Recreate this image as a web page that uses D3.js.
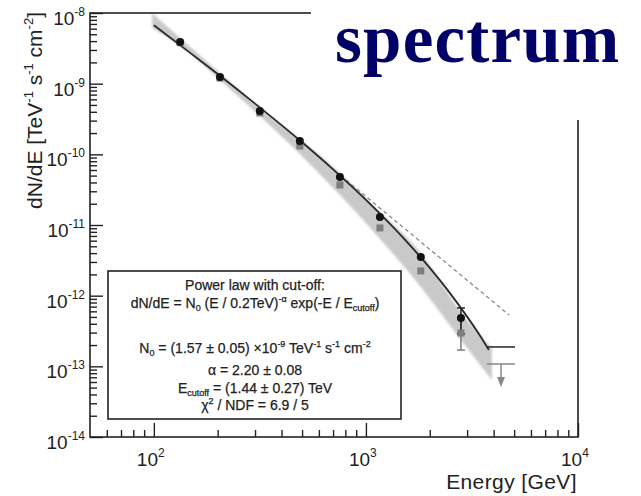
<!DOCTYPE html>
<html>
<head>
<meta charset="utf-8">
<script src="https://cdn.jsdelivr.net/npm/d3@7"></script>
<style>
  body { margin: 0; background: #fff; }
  svg { display: block; }
</style>
</head>
<body>
<div id="chart"></div>
<script>
// measured points (GeV, TeV^-1 s^-1 cm^-2)
const energy = [133, 205, 316, 488, 754, 1164, 1815, 2806];
const fluxBlack = [3.89e-9, 1.24e-9, 4.1e-10, 1.55e-10, 4.79e-11, 1.30e-11, 3.52e-12, 4.83e-13];
const fluxGray = [3.8e-9, 1.2e-9, 3.85e-10, 1.31e-10, 3.68e-11, 9.08e-12, 2.24e-12, 2.96e-13];

// error bars on the last point only
const errEnergy = [2806];
const errBlack = [[2.87e-13, 6.70e-13]];
const errGray = [[1.70e-13, 5.0e-13]];

// upper limits
const ulEnergyRange = [3725, 5047];
const ulArrowEnergy = 4335;
const ulBlack = 1.88e-13;
const ulGray = 1.08e-13;

// fitted power law with cut-off
const fitEnergy = [100, 150, 200, 300, 500, 700, 1000, 1500, 2000, 2500, 3000, 3500, 3800];
const fitFlux = [6.73e-9, 2.66e-9, 1.37e-9, 5.22e-10, 1.48e-10, 6.13e-11, 2.27e-11, 6.58e-12, 2.47e-12, 1.07e-12, 5.05e-13, 2.54e-13, 1.7e-13];

// pure power law (dashed)
const plEnergy = [805, 4730];
const plFlux = [4.34e-11, 5.33e-13];

// grey band
const bandEnergy = [98, 133, 205, 316, 488, 762, 1178, 1815, 2806, 3926];
const bandUpper = [1e-8, 4.43e-9, 1.42e-9, 4.53e-10, 1.65e-10, 5.27e-11, 1.48e-11, 4.02e-12, 5.87e-13, 1.82e-13];
const bandLower = [6.14e-9, 3.41e-9, 1.13e-9, 3.49e-10, 1.01e-10, 2.57e-11, 6.14e-12, 1.33e-12, 2.36e-13, 6.41e-14];

// ticks
const xMajor = [100, 1000, 10000];
const xExponents = [2, 3, 4];
const xMinor = [60, 70, 80, 90, 200, 300, 400, 500, 600, 700, 800, 900, 2000, 3000, 4000, 5000, 6000, 7000, 8000, 9000];
const yMajor = [1e-8, 1e-9, 1e-10, 1e-11, 1e-12, 1e-13, 1e-14];
const yExponents = [-8, -9, -10, -11, -12, -13, -14];
const yMinor = [];
[-14, -13, -12, -11, -10, -9].forEach(p => {
    [2, 3, 4, 5, 6, 7, 8, 9].forEach(m => yMinor.push(m * Math.pow(10, p)));
});

const width = 641, height = 496;
const plotLeft = 90, plotRight = 578, plotTop = 13, plotBottom = 437;
const font = "'Liberation Sans', Arial, sans-serif";

const svg = d3.select('#chart').append('svg')
    .attr('width', width)
    .attr('height', height);

const defs = svg.append('defs');
defs.append('filter').attr('id', 'soft')
    .append('feGaussianBlur').attr('stdDeviation', 1.2);

const x = d3.scaleLog().domain([50, 1e4]).range([plotLeft, plotRight]);
const y = d3.scaleLog().domain([1e-14, 1e-8]).range([plotBottom, plotTop]);

// band
const band = d3.area()
    .x((d, i) => x(bandEnergy[i]))
    .y0((d, i) => y(bandLower[i]))
    .y1((d, i) => y(bandUpper[i]))
    .curve(d3.curveMonotoneX);

svg.append('path')
    .datum(bandEnergy)
    .attr('d', band)
    .attr('fill', '#c9c9c9')
    .attr('filter', 'url(#soft)');

// dashed power law
svg.append('path')
    .datum(plEnergy)
    .attr('d', d3.line().x(d => x(d)).y((d, i) => y(plFlux[i])))
    .attr('fill', 'none')
    .attr('stroke', '#8a8a8a')
    .attr('stroke-width', 1.3)
    .attr('stroke-dasharray', '4,3');

// fit curve
svg.append('path')
    .datum(fitEnergy)
    .attr('d', d3.line().x(d => x(d)).y((d, i) => y(fitFlux[i])).curve(d3.curveMonotoneX))
    .attr('fill', 'none')
    .attr('stroke', '#2a2a2a')
    .attr('stroke-width', 1.8);

// error bars
function errorBar(e, range, color, capW) {
    const g = svg.append('g').attr('stroke', color).attr('stroke-width', 1.5);
    g.append('line').attr('x1', x(e)).attr('x2', x(e)).attr('y1', y(range[0])).attr('y2', y(range[1]));
    range.forEach(v => {
        g.append('line').attr('x1', x(e) - capW).attr('x2', x(e) + capW).attr('y1', y(v)).attr('y2', y(v));
    });
}
errEnergy.forEach((e, i) => {
    errorBar(e, errGray[i], '#7a7a7a', 4);
    errorBar(e, errBlack[i], '#222', 4);
});

// grey squares
svg.append('g').selectAll('rect')
    .data(energy)
    .join('rect')
    .attr('x', d => x(d) - 3.5)
    .attr('y', (d, i) => y(fluxGray[i]) - 3.5)
    .attr('width', 7)
    .attr('height', 7)
    .attr('fill', '#7d7d7d');

// black circles
svg.append('g').selectAll('circle')
    .data(energy)
    .join('circle')
    .attr('cx', d => x(d))
    .attr('cy', (d, i) => y(fluxBlack[i]))
    .attr('r', 4)
    .attr('fill', '#111');

// upper limits
svg.append('line')
    .attr('x1', x(ulEnergyRange[0])).attr('x2', x(ulEnergyRange[1]))
    .attr('y1', y(ulBlack)).attr('y2', y(ulBlack))
    .attr('stroke', '#222').attr('stroke-width', 1.5);
svg.append('line')
    .attr('x1', x(ulEnergyRange[0])).attr('x2', x(ulEnergyRange[1]))
    .attr('y1', y(ulGray)).attr('y2', y(ulGray))
    .attr('stroke', '#888').attr('stroke-width', 1.5);
svg.append('line')
    .attr('x1', x(ulArrowEnergy)).attr('x2', x(ulArrowEnergy))
    .attr('y1', y(ulGray)).attr('y2', y(ulGray) + 14)
    .attr('stroke', '#888').attr('stroke-width', 1.5);
svg.append('path')
    .attr('d', `M${x(ulArrowEnergy) - 4},${y(ulGray) + 13} L${x(ulArrowEnergy) + 4},${y(ulGray) + 13} L${x(ulArrowEnergy)},${y(ulGray) + 23} Z`)
    .attr('fill', '#888');

// axes
const yAxisG = svg.append('g').attr('transform', `translate(${plotLeft},0)`);
yAxisG.call(d3.axisRight(y).tickValues(yMajor).tickSize(13).tickFormat(''));
yAxisG.append('g').call(d3.axisRight(y).tickValues(yMinor).tickSize(7).tickFormat(''));
const xAxisG = svg.append('g').attr('transform', `translate(0,${plotBottom})`);
xAxisG.call(d3.axisTop(x).tickValues(xMajor).tickSize(14).tickFormat(''));
xAxisG.append('g').call(d3.axisTop(x).tickValues(xMinor).tickSize(7).tickFormat(''));
svg.selectAll('.domain').remove();
svg.selectAll('.tick line').attr('stroke', '#222').attr('stroke-width', 1.4);

// frame
svg.append('rect')
    .attr('x', plotLeft).attr('y', plotTop)
    .attr('width', plotRight - plotLeft).attr('height', plotBottom - plotTop)
    .attr('fill', 'none').attr('stroke', '#222').attr('stroke-width', 1.6);

// y tick labels
const labels = svg.append('g').attr('font-family', font).attr('fill', '#222');
yMajor.forEach((v, i) => {
    const t = labels.append('text')
        .attr('x', 85).attr('y', y(v) + 12)
        .attr('text-anchor', 'end')
        .attr('font-size', 19);
    t.append('tspan').text('10');
    t.append('tspan').attr('dy', -9).attr('font-size', 12).text(yExponents[i]);
});

// x tick labels
xMajor.forEach((v, i) => {
    const t = labels.append('text')
        .attr('x', x(v) - 17).attr('y', 466)
        .attr('font-size', 19);
    t.append('tspan').text('10');
    t.append('tspan').attr('dy', -9).attr('font-size', 12).text(xExponents[i]);
});

// axis titles
labels.append('text')
    .attr('x', 577).attr('y', 489)
    .attr('text-anchor', 'end')
    .attr('font-size', 21)
    .attr('letter-spacing', 0.4)
    .text('Energy [GeV]');

const yt = labels.append('text')
    .attr('transform', 'translate(42,12) rotate(-90)')
    .attr('text-anchor', 'end')
    .attr('font-size', 21);
let ytShift = 0;
[['dN/dE [TeV', 0], ['-1', 1], [' s', 0], ['-1', 1], [' cm', 0], ['-2', 1], [']', 0]].forEach(p => {
    const target = p[1] ? -9 : 0;
    yt.append('tspan')
        .attr('dy', target - ytShift)
        .attr('font-size', p[1] ? 13 : 21)
        .text(p[0]);
    ytShift = target;
});

// legend box
const lg = svg.append('g');
lg.append('rect')
    .attr('x', 108).attr('y', 271).attr('width', 293).attr('height', 148)
    .attr('fill', '#fff').attr('stroke', '#222').attr('stroke-width', 1.6);

// parts: 0 normal, 1 superscript, -1 subscript
const legendLines = [
    [['Power law with cut-off:', 0]],
    [['dN/dE = N', 0], ['0', -1], [' (E / 0.2TeV)', 0], ['-\u03b1', 1], [' exp(-E / E', 0], ['cutoff', -1], [')', 0]],
    [['N', 0], ['0', -1], [' = (1.57 \u00b1 0.05) \u00d710', 0], ['-9', 1], [' TeV', 0], ['-1', 1], [' s', 0], ['-1', 1], [' cm', 0], ['-2', 1]],
    [['\u03b1 = 2.20 \u00b1 0.08', 0]],
    [['E', 0], ['cutoff', -1], [' = (1.44 \u00b1 0.27) TeV', 0]],
    [['\u03c7', 0], ['2', 1], [' / NDF = 6.9 / 5', 0]]
];
const legendY = [290, 308, 353, 375, 393, 410];

legendLines.forEach((parts, li) => {
    const t = lg.append('text')
        .attr('x', 255).attr('y', legendY[li])
        .attr('text-anchor', 'middle')
        .attr('font-family', font)
        .attr('font-size', 14)
        .attr('fill', '#222')
        .attr('stroke', '#222')
        .attr('stroke-width', 0.25);
    let shift = 0;
    parts.forEach(p => {
        const target = p[1] === 1 ? -6 : (p[1] === -1 ? 3 : 0);
        t.append('tspan')
            .attr('dy', target - shift)
            .attr('font-size', p[1] ? 9 : 14)
            .text(p[0]);
        shift = target;
    });
});

// title area
svg.append('rect')
    .attr('x', 311).attr('y', 0).attr('width', 330).attr('height', 120)
    .attr('fill', '#fff');
svg.append('text')
    .attr('x', 335).attr('y', 62)
    .attr('font-family', "'Liberation Serif', 'Times New Roman', serif")
    .attr('font-weight', 'bold')
    .attr('font-size', 69)
    .attr('letter-spacing', 1.2)
    .attr('fill', '#000066')
    .text('spectrum');
</script>
</body>
</html>
